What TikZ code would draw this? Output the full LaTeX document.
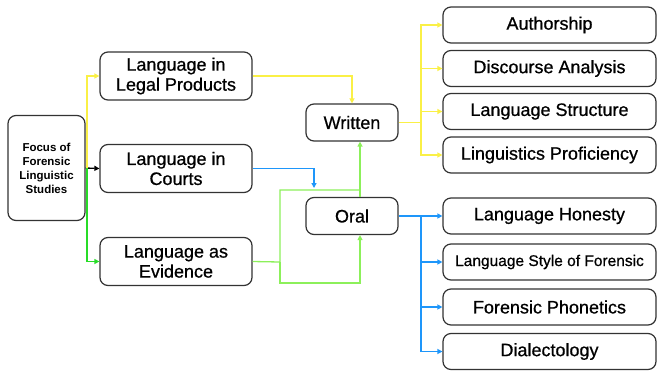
\documentclass[tikz,border=0pt]{standalone}
\usepackage{fontspec}
\setmainfont{Liberation Sans}
\newfontfamily\boxfont[FakeBold=0.7]{Liberation Sans}
\usetikzlibrary{arrows.meta}
\definecolor{lineyellow}{RGB}{250,240,70}
\definecolor{lineblue}{RGB}{30,150,250}
\definecolor{linegreen}{RGB}{40,220,40}
\definecolor{lightgreen}{RGB}{140,240,90}
\begin{document}
\begin{tikzpicture}
    [
        x = 1pt, y = -1pt,
        box/.style = {draw = black!80, line width = 1.2pt, rounded corners = 8pt, align = center,
                      inner sep = 0pt, font = \boxfont\fontsize{18}{20}\selectfont},
        topic/.style = {box, minimum width = 152pt, minimum height = 48pt},
        mode/.style = {box, minimum width = 92pt, minimum height = 37pt},
        field/.style = {box, minimum width = 213pt, minimum height = 36pt},
        link/.style = {line width = 1.3pt, -{Triangle[length = 5pt, width = 5pt]}}
    ]
    \useasboundingbox (0,0) rectangle (658,370);
    \node [box, minimum width = 77pt, minimum height = 105pt, font = \bfseries\fontsize{11.5}{14}\selectfont] (focus) at (46.5,168) {Focus of\\Forensic\\Linguistic\\Studies};
    \node [topic] (legal) at (176,76) {Language in\\Legal Products};
    \node [topic] (courts) at (176,168.5) {Language in\\Courts};
    \node [topic] (evidence) at (176,261.5) {Language as\\Evidence};
    \node [mode] (written) at (352,122.5) {Written};
    \node [mode] (oral) at (352,216) {Oral};
    \node [field] (authorship) at (549.5,25) {Authorship};
    \node [field] (discourse) at (549.5,68.5) {Discourse Analysis};
    \node [field] (structure) at (549.5,111.5) {Language Structure};
    \node [field] (proficiency) at (549.5,155) {Linguistics Proficiency};
    \node [field] (honesty) at (549.5,216) {Language Honesty};
    \node [field, font = \boxfont\fontsize{15.5}{17}\selectfont] (style) at (549.5,262) {Language Style of Forensic};
    \node [field] (phonetics) at (549.5,307) {Forensic Phonetics};
    \node [field] (dialect) at (549.5,351.5) {Dialectology};
    \coordinate (split) at (87,168);
    \coordinate (wsplit) at (421,122.5);
    \coordinate (osplit) at (421,216);
    \coordinate (gsplit) at (280,262);
    \draw [link, black] (focus.east) -- (courts.west);
    \draw [link, lineyellow] (split) |- (legal.west);
    \draw [link, linegreen] (split) |- (evidence.west);
    \draw [link, lineyellow] (legal.east) -| (written.north);
    \draw [link, lineblue] (courts.east) -| (314,188);
    \draw [line width = 1.3pt, lightgreen] (evidence.east) -- (gsplit) |- (360,190);
    \draw [link, lightgreen] (oral.north -| 360,0) -- (written.south -| 360,0);
    \draw [link, lightgreen] (gsplit) |- (360,283) -- (oral.south -| 360,0);
    \draw [line width = 1.3pt, lineyellow] (written.east) -- (wsplit);
    \foreach \f in {authorship, discourse, structure, proficiency}
        \draw [link, lineyellow] (wsplit) |- (\f.west);
    \draw [line width = 1.3pt, lineblue] (oral.east) -- (osplit);
    \foreach \f in {honesty, style, phonetics, dialect}
        \draw [link, lineblue] (osplit) |- (\f.west);
\end{tikzpicture}
\end{document}
